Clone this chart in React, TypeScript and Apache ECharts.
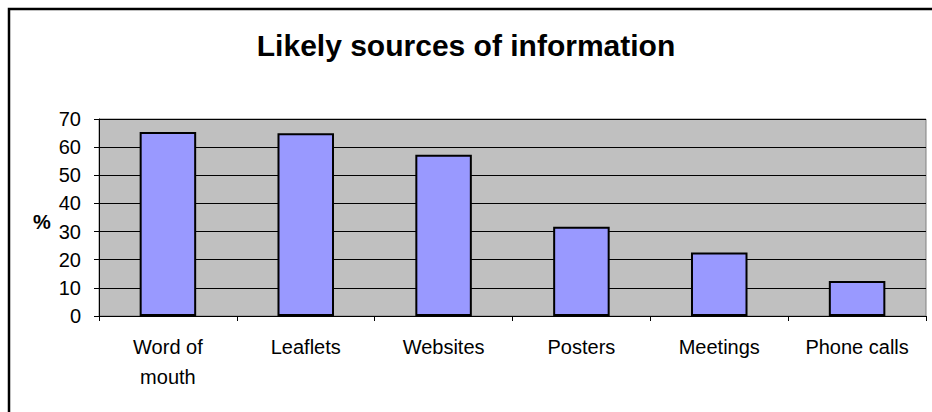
import React, { useEffect, useRef } from "react";
import * as echarts from "echarts";

const categories = ["Word of\nmouth", "Leaflets", "Websites", "Posters", "Meetings", "Phone calls"];
const values = [65.4, 64.9, 57.3, 31.7, 22.6, 12.4];
const yTicks = { min: 0, max: 70, interval: 10 };
const titleText = "Likely sources of information";
const yName = "%";

const FONT = "'Liberation Sans', Arial, sans-serif";

export default function App() {
  const ref = useRef<HTMLDivElement>(null);
  useEffect(() => {
    if (!ref.current) return;
    const chart = echarts.init(ref.current, null, { renderer: "svg" });
    chart.setOption({
      animation: false,
      backgroundColor: "#fff",
      title: {
        text: titleText,
        left: "center",
        top: 25,
        textStyle: { fontFamily: FONT, fontSize: 30, fontWeight: "bold", color: "#000" },
      },
      graphic: [
        {
          type: "rect",
          shape: { x: 9, y: 9, width: 1000, height: 1000 },
          style: { fill: "none", stroke: "#000", lineWidth: 2.5 },
          silent: true,
        },
        {
          type: "text",
          x: 42,
          y: 222,
          style: {
            text: yName,
            fontFamily: FONT,
            fontSize: 20,
            fontWeight: "bold",
            fill: "#000",
            align: "center",
            verticalAlign: "middle",
          },
          silent: true,
        },
      ],
      grid: {
        left: 99,
        right: 6,
        top: 119,
        bottom: 96,
        show: true,
        backgroundColor: "#C0C0C0",
        borderColor: "#808080",
        borderWidth: 1,
      },
      xAxis: {
        type: "category",
        data: categories,
        axisLine: { show: true, lineStyle: { color: "#000", width: 1 } },
        axisTick: { show: true, alignWithLabel: false, length: 5, lineStyle: { color: "#000" } },
        axisLabel: {
          interval: 0,
          margin: 16,
          fontFamily: FONT,
          fontSize: 20,
          color: "#000",
          lineHeight: 30,
        },
        splitLine: { show: false },
      },
      yAxis: {
        type: "value",
        min: yTicks.min,
        max: yTicks.max,
        interval: yTicks.interval,
        axisLine: { show: true, lineStyle: { color: "#000", width: 1 } },
        axisTick: { show: true, length: 5, lineStyle: { color: "#000" } },
        axisLabel: { margin: 18, fontFamily: FONT, fontSize: 20, color: "#000" },
        splitLine: { show: true, lineStyle: { color: "#000", width: 1 } },
      },
      series: [
        {
          type: "bar",
          data: values,
          barWidth: "41%",
          itemStyle: { color: "#9999FF", borderColor: "#000", borderWidth: 2 },
        },
      ],
    });
    return () => chart.dispose();
  }, []);
  return (
    <div
      ref={ref}
      style={{ position: "fixed", left: 0, top: 0, width: 932, height: 412 }}
    />
  );
}
